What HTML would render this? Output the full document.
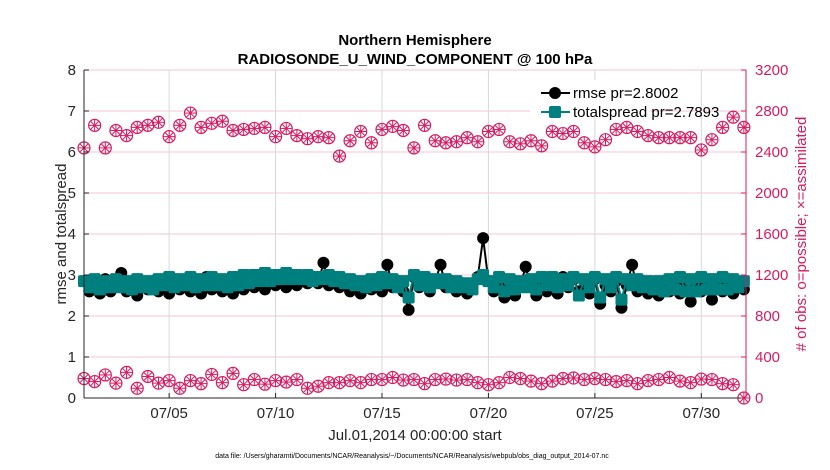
<!DOCTYPE html>
<html><head><meta charset="utf-8"><style>
body{margin:0;background:#fff;}
svg{display:block;font-family:"Liberation Sans",sans-serif;}
</style></head><body>
<svg id="chart" width="830" height="470"></svg>
<script>
const obsDays = []; for (let i = 0; i <= 62; i++) obsDays.push(1 + 0.5 * i);
const errDays = []; for (let i = 0; i <= 124; i++) errDays.push(1 + 0.25 * i);
const rmseVals = [2.85,2.6,2.75,2.55,2.9,2.6,2.8,3.05,2.6,2.75,
2.5,2.8,2.65,2.85,2.6,2.8,2.55,2.9,2.65,2.8,
2.6,2.85,2.55,2.95,2.65,2.85,2.6,2.8,2.55,2.9,
2.65,2.85,2.7,2.9,2.65,2.95,2.75,2.9,2.7,3.0,
2.75,2.9,2.8,2.95,2.8,3.3,2.75,2.9,2.7,2.85,
2.6,2.85,2.55,2.8,2.65,2.9,2.6,3.25,2.7,2.85,
2.6,2.15,2.95,2.7,2.9,2.6,2.85,3.25,2.7,2.85,
2.6,2.8,2.55,2.75,2.95,3.9,2.85,2.6,2.8,2.45,
2.8,2.5,2.75,3.2,2.7,2.5,2.85,2.6,2.9,2.55,
2.95,2.7,2.9,2.6,2.85,2.55,2.9,2.3,2.75,2.6,
2.85,2.2,2.75,3.25,2.6,2.85,2.55,2.8,2.5,2.85,
2.6,2.8,2.55,2.85,2.35,2.8,2.6,2.85,2.4,2.8,
2.6,2.85,2.55,2.75,2.65];
const spreadVals = [2.85,2.7,2.9,2.65,2.85,2.7,2.9,2.7,2.85,2.65,
2.9,2.7,2.85,2.65,2.9,2.75,2.95,2.7,2.9,2.75,
2.95,2.7,2.9,2.75,2.95,2.75,2.9,2.7,2.95,2.75,
3.0,2.8,3.0,2.85,3.05,2.85,3.0,2.9,3.05,2.9,
3.0,2.9,3.0,2.85,2.95,2.9,3.0,2.85,2.95,2.8,
2.9,2.75,2.85,2.7,2.9,2.75,2.95,2.8,2.9,2.7,
2.85,2.45,3.0,2.75,2.95,2.7,2.9,2.8,2.9,2.7,
2.85,2.7,2.8,2.65,2.9,3.0,2.85,2.7,2.95,2.6,
2.9,2.65,2.85,2.7,2.9,2.65,2.95,2.75,2.95,2.7,
2.9,2.75,2.95,2.5,2.9,2.7,2.95,2.45,2.9,2.7,
2.95,2.4,2.9,2.75,2.9,2.7,2.85,2.65,2.85,2.6,
2.9,2.65,2.95,2.6,2.9,2.6,2.95,2.65,2.9,2.65,
2.95,2.65,2.9,2.7,2.85];
const obsPossible = [2440,2660,2440,2610,2560,2640,2660,2690,2550,2660,2780,2640,2680,2700,2610,2620,2630,2640,2550,2630,2560,2530,2550,2540,2360,2510,2600,2490,2620,2650,2610,2440,2660,2510,2490,2500,2540,2500,2600,2620,2500,2480,2510,2460,2600,2580,2600,2490,2450,2520,2620,2640,2600,2560,2540,2540,2540,2540,2420,2520,2640,2740,2640];
const obsAssim = [190,160,225,145,250,95,210,145,170,95,170,140,230,150,240,130,180,135,170,155,180,95,115,150,150,170,150,180,180,200,175,180,140,180,185,175,180,150,130,150,200,190,165,140,165,190,195,180,190,180,160,170,140,170,180,200,165,150,185,180,140,130,0];
const leftTicks = [0,1,2,3,4,5,6,7,8];
const rightTicks = [0,400,800,1200,1600,2000,2400,2800,3200];
const xTickDays = [5,10,15,20,25,30];
const xTickLabels = ["07/05","07/10","07/15","07/20","07/25","07/30"];

const L=84,R=746,T=70,B=398;
const xs = d => L + (d-1)*(R-L)/31.1;
const yl = v => B - v*(B-T)/8;
const yr = c => B - c*(B-T)/3200;
const NS="http://www.w3.org/2000/svg";
const svg=document.getElementById('chart');
function mk(tag,attrs,parent){const e=document.createElementNS(NS,tag);for(const k in attrs)e.setAttribute(k,attrs[k]);(parent||svg).appendChild(e);return e;}
const RED="#d81b60";

const grid=mk('g',{});


rightTicks.forEach(c=>{const l=mk('line',{x1:L,x2:R,y1:yr(c),y2:yr(c),stroke:"#f3c6d6","stroke-width":1},grid);

});
xTickDays.forEach(d=>{const l=mk('line',{x1:xs(d),x2:xs(d),y1:T,y2:B,stroke:"#d8d8d8","stroke-width":1},grid);

});

function obsMarker(x,y,g){
  const r=6;
  mk('circle',{cx:x,cy:y,r:r,fill:"none",stroke:RED,"stroke-width":1.2},g);
  for(let a=0;a<4;a++){const t=a*Math.PI/4;mk('line',{x1:x-r*Math.cos(t),y1:y-r*Math.sin(t),x2:x+r*Math.cos(t),y2:y+r*Math.sin(t),stroke:RED,"stroke-width":1},g);}
}
const gp=mk('g',{});


obsPossible.forEach((c,i)=>{if(c!=null)obsMarker(xs(obsDays[i]),yr(c),gp);});
const ga=mk('g',{});


obsAssim.forEach((c,i)=>{obsMarker(xs(obsDays[i]),yr(c),ga);});

const gr=mk('g',{});


mk('polyline',{points:rmseVals.map((v,i)=>xs(errDays[i])+","+yl(v)).join(" "),fill:"none",stroke:"#000","stroke-width":2},gr);
rmseVals.forEach((v,i)=>mk('circle',{cx:xs(errDays[i]),cy:yl(v),r:6,fill:"#000"},gr));
const gs=mk('g',{});


mk('polyline',{points:spreadVals.map((v,i)=>xs(errDays[i])+","+yl(v)).join(" "),fill:"none",stroke:"#007f7f","stroke-width":2},gs);
spreadVals.forEach((v,i)=>mk('rect',{x:xs(errDays[i])-6,y:yl(v)-6,width:12,height:12,rx:2,fill:"#007f7f"},gs));

const ax=mk('g',{});


mk('line',{x1:L,x2:L,y1:T,y2:B,stroke:"#262626","stroke-width":1},ax);
mk('line',{x1:L,x2:R,y1:B,y2:B,stroke:"#262626","stroke-width":1},ax);
mk('line',{x1:R,x2:R,y1:T,y2:B,stroke:RED,"stroke-width":1},ax);
leftTicks.forEach(v=>{mk('line',{x1:L,x2:L+5,y1:yl(v),y2:yl(v),stroke:"#262626"},ax);
const t=mk('text',{x:L-8,y:yl(v)+5,"text-anchor":"end","font-size":15,fill:"#262626"},ax);t.textContent=v;

});
rightTicks.forEach(c=>{mk('line',{x1:R-5,x2:R,y1:yr(c),y2:yr(c),stroke:RED},ax);
const t=mk('text',{x:R+9,y:yr(c)+5,"font-size":15,fill:RED},ax);t.textContent=c;

});
xTickDays.forEach((d,i)=>{mk('line',{x1:xs(d),x2:xs(d),y1:B-5,y2:B,stroke:"#262626"},ax);
const t=mk('text',{x:xs(d),y:B+20,"text-anchor":"middle","font-size":15,fill:"#262626"},ax);t.textContent=xTickLabels[i];

});
</script>
<svg width="830" height="470" style="position:absolute;left:0;top:0">
<text x="415" y="45" text-anchor="middle" font-size="15" font-weight="bold" fill="#000">Northern Hemisphere</text>
<text x="415" y="64" text-anchor="middle" font-size="15" font-weight="bold" fill="#000">RADIOSONDE_U_WIND_COMPONENT @ 100 hPa</text>
<text transform="translate(66,234) rotate(-90)" text-anchor="middle" font-size="15" fill="#262626">rmse and totalspread</text>
<text transform="translate(806,234) rotate(-90)" text-anchor="middle" font-size="15" fill="#d81b60"># of obs: o=possible; ×=assimilated</text>
<text x="415" y="440" text-anchor="middle" font-size="15" fill="#262626">Jul.01,2014 00:00:00 start</text>
<text x="412" y="458" text-anchor="middle" font-size="7" fill="#000">data file: /Users/gharamti/Documents/NCAR/Reanalysis/~/Documents/NCAR/Reanalysis/webpub/obs_diag_output_2014-07.nc</text>
<g>
<rect x="530" y="80" width="120" height="36" fill="#fff"/>
<line x1="541" y1="93" x2="570" y2="93" stroke="#000" stroke-width="2"/>
<circle cx="555" cy="93" r="6" fill="#000"/>
<text x="573" y="98" font-size="15" fill="#000">rmse pr=2.8002</text>
<line x1="541" y1="112" x2="570" y2="112" stroke="#007f7f" stroke-width="2"/>
<rect x="549" y="106" width="12" height="12" rx="2" fill="#007f7f"/>
<text x="573" y="117" font-size="15" fill="#000">totalspread pr=2.7893</text>
</g>
</svg>
</body></html>
